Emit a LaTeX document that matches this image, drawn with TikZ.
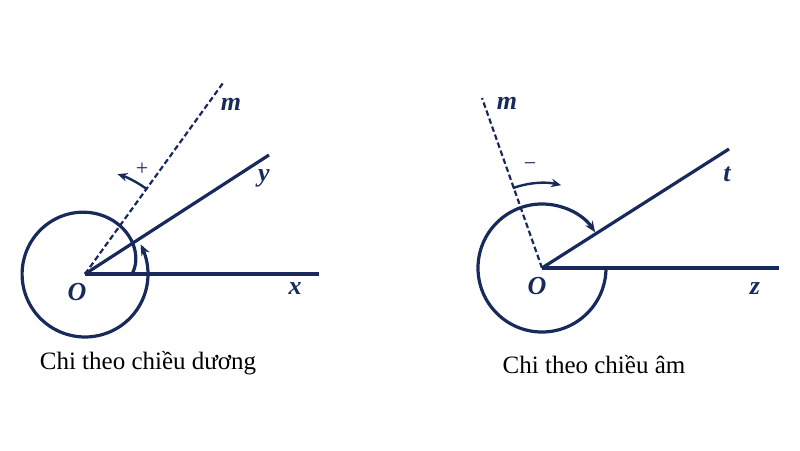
\documentclass[tikz,border=0pt]{standalone}
\usepackage{fontspec}
\setmainfont{Liberation Serif}
\usetikzlibrary{arrows.meta,calc}
\definecolor{ink}{RGB}{24,42,92}

\begin{document}
\begin{tikzpicture}[x=1pt,y=1pt,>={Stealth[length=11pt,width=9pt]},
  ray/.style={draw=ink,line width=3.2pt},
  mray/.style={draw=ink,line width=2.2pt,dash pattern=on 5.5pt off 3pt},
  turn/.style={draw=ink,line width=3.2pt,->},
  smallturn/.style={draw=ink,line width=2.4pt,-{Stealth[length=10pt,width=8.5pt]}},
  lbl/.style={text=ink,font=\fontsize{26}{26}\selectfont\bfseries\itshape},
  sgn/.style={text=ink,font=\fontsize{22}{22}\selectfont},
  caption/.style={anchor=base,font=\fontsize{25}{25}\selectfont}]
\useasboundingbox (0,0) rectangle (800,450);

% left: chiều dương
\coordinate (O1) at (85,176);
\coordinate (X) at (319,176);
\coordinate (Y) at (269,295);
\coordinate (M1) at (223,367);
\draw[ray] (O1) -- (X);
\draw[ray] (O1) -- (Y);
\draw[mray] (O1) -- (M1);
\draw[turn,shift={(O1)}] plot[domain=0:388,samples=140,variable=\t] (\t:{63-16*exp(-\t/35)});
\draw[smallturn] ($(O1)+(54:105)$) arc[start angle=54,end angle=72,radius=105];
\node[sgn] (plus) at (142,281) {+};
\node[lbl] (lO1) at (77,158) {O};
\node[lbl] (lX) at (295,161) {x};
\node[lbl] (lY) at (264,272) {y};
\node[lbl] (lM1) at (231,346) {m};
\node[caption] (cap1) at (148,81) {Chi theo chiều dương};

% right: chiều âm
\coordinate (O2) at (542,182);
\coordinate (Z) at (779,182);
\coordinate (T) at (729,301);
\coordinate (M2) at (482,352);
\draw[ray] (O2) -- (Z);
\draw[ray] (O2) -- (T);
\draw[mray] (O2) -- (M2);
\draw[turn] ($(O2)+(0:64)$) arc[start angle=0,end angle=-326,radius=64];
\draw[smallturn] ($(O2)+(110:85)$) arc[start angle=110,end angle=77,radius=85];
\node[sgn] (minus) at (530,283) {−};
\node[lbl] (lO2) at (537,164) {O};
\node[lbl] (lZ) at (755,161) {z};
\node[lbl] (lT) at (727,276) {t};
\node[lbl] (lM2) at (507,347) {m};
\node[caption] (cap2) at (594,77) {Chi theo chiều âm};
\end{tikzpicture}
\end{document}
